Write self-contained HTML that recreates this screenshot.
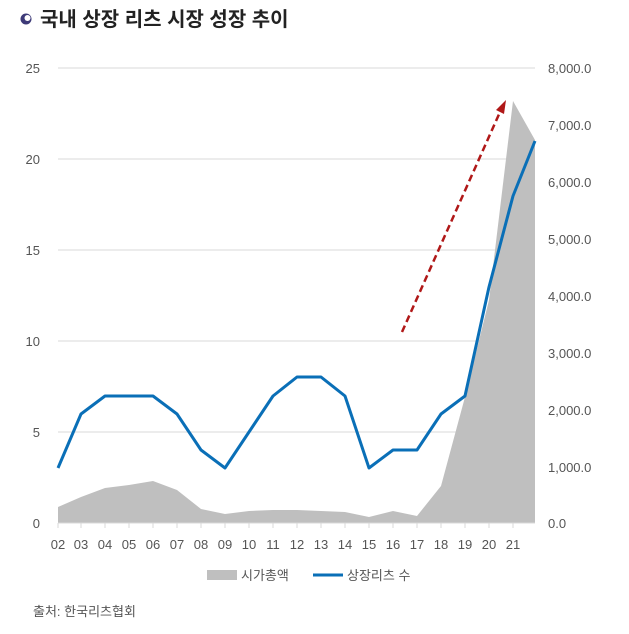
<!DOCTYPE html>
<html><head><meta charset="utf-8"><style>
body{margin:0;background:#fff;width:629px;height:629px;overflow:hidden;font-family:"Liberation Sans","Noto Sans CJK KR",sans-serif;}
</style></head><body>
<svg width="629" height="629" xmlns="http://www.w3.org/2000/svg" font-family="Liberation Sans, Noto Sans CJK KR, sans-serif">
<circle cx="26" cy="19" r="5.5" fill="#3d3a78"/><circle cx="27.5" cy="18" r="3" fill="#fff"/>
<text x="40" y="26" font-size="20" font-weight="bold" fill="#222">국내 상장 리츠 시장 성장 추이</text>
<g stroke="#d9d9d9" stroke-width="1">
<line x1="58" y1="68" x2="535" y2="68"/><line x1="58" y1="159" x2="535" y2="159"/><line x1="58" y1="250" x2="535" y2="250"/><line x1="58" y1="341" x2="535" y2="341"/><line x1="58" y1="432" x2="535" y2="432"/>
</g>
<polygon fill="#bfbfbf" points="58,523 58,507 81,497 105,488 129,485 153,481 177,490 201,509 225,514 249,511 273,510 297,510 321,511 345,512 369,517 393,511 417,516 441,486 465,397 489,300 513,101 535,140 535,523"/>
<line x1="58" y1="523" x2="535" y2="523" stroke="#d9d9d9"/>
<g stroke="#d9d9d9"><line x1="58" y1="523" x2="58" y2="528"/><line x1="81" y1="523" x2="81" y2="528"/><line x1="105" y1="523" x2="105" y2="528"/><line x1="129" y1="523" x2="129" y2="528"/><line x1="153" y1="523" x2="153" y2="528"/><line x1="177" y1="523" x2="177" y2="528"/><line x1="201" y1="523" x2="201" y2="528"/><line x1="225" y1="523" x2="225" y2="528"/><line x1="249" y1="523" x2="249" y2="528"/><line x1="273" y1="523" x2="273" y2="528"/><line x1="297" y1="523" x2="297" y2="528"/><line x1="321" y1="523" x2="321" y2="528"/><line x1="345" y1="523" x2="345" y2="528"/><line x1="369" y1="523" x2="369" y2="528"/><line x1="393" y1="523" x2="393" y2="528"/><line x1="417" y1="523" x2="417" y2="528"/><line x1="441" y1="523" x2="441" y2="528"/><line x1="465" y1="523" x2="465" y2="528"/><line x1="489" y1="523" x2="489" y2="528"/><line x1="513" y1="523" x2="513" y2="528"/></g>
<polyline fill="none" stroke="#0a6fb7" stroke-width="3" stroke-linejoin="round" points="58,468 81,414 105,396 129,396 153,396 177,414 201,450 225,468 249,432 273,396 297,377 321,377 345,396 369,468 393,450 417,450 441,414 465,396 489,287 513,196 535,141"/>
<line x1="402" y1="332" x2="500" y2="112" stroke="#b01818" stroke-width="2.5" stroke-dasharray="7,4"/>
<polygon points="506,100 496,110 504,114" fill="#b01818"/>
<g font-size="13" fill="#555" text-anchor="end">
<text x="40" y="73">25</text><text x="40" y="164">20</text><text x="40" y="255">15</text><text x="40" y="346">10</text><text x="40" y="437">5</text><text x="40" y="528">0</text>
</g>
<g font-size="13" fill="#555">
<text x="548" y="73">8,000.0</text><text x="548" y="130">7,000.0</text><text x="548" y="187">6,000.0</text><text x="548" y="244">5,000.0</text><text x="548" y="301">4,000.0</text><text x="548" y="358">3,000.0</text><text x="548" y="415">2,000.0</text><text x="548" y="472">1,000.0</text><text x="548" y="528">0.0</text>
</g>
<g font-size="13" fill="#555" text-anchor="middle">
<text x="58" y="549">02</text><text x="81" y="549">03</text><text x="105" y="549">04</text><text x="129" y="549">05</text><text x="153" y="549">06</text><text x="177" y="549">07</text><text x="201" y="549">08</text><text x="225" y="549">09</text><text x="249" y="549">10</text><text x="273" y="549">11</text><text x="297" y="549">12</text><text x="321" y="549">13</text><text x="345" y="549">14</text><text x="369" y="549">15</text><text x="393" y="549">16</text><text x="417" y="549">17</text><text x="441" y="549">18</text><text x="465" y="549">19</text><text x="489" y="549">20</text><text x="513" y="549">21</text>
</g>
<rect x="207" y="570" width="30" height="10" fill="#bfbfbf"/>
<text x="241" y="580" font-size="13" fill="#555">시가총액</text>
<line x1="313" y1="575" x2="343" y2="575" stroke="#0a6fb7" stroke-width="3"/>
<text x="347" y="580" font-size="13" fill="#555">상장리츠 수</text>
<text x="33" y="616" font-size="13" fill="#555">출처: 한국리츠협회</text>
</svg>
</body></html>
